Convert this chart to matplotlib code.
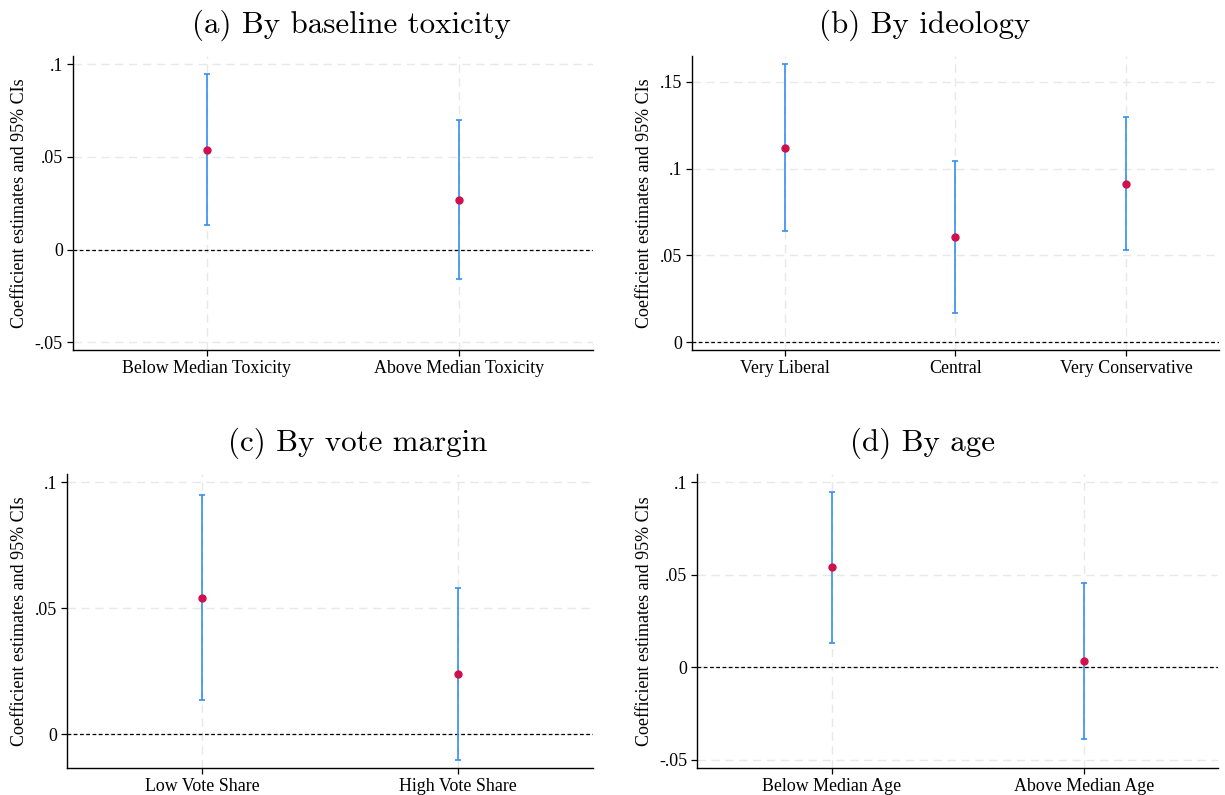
import matplotlib
matplotlib.use("Agg")
import matplotlib.pyplot as plt
import numpy as np

# ---------------- data ----------------
titles = ["(a) By baseline toxicity", "(b) By ideology", "(c) By vote margin", "(d) By age"]

cats_a = ["Below Median Toxicity", "Above Median Toxicity"]
coef_a = [0.054, 0.027]
lo_a = [0.0133, -0.0157]
hi_a = [0.0948, 0.0697]
yticks_a = [-0.05, 0, 0.05, 0.1]
ylabels_a = ["-.05", "0", ".05", ".1"]

cats_b = ["Very Liberal", "Central", "Very Conservative"]
coef_b = [0.112, 0.0608, 0.0911]
lo_b = [0.0642, 0.017, 0.0529]
hi_b = [0.160, 0.1045, 0.1295]
yticks_b = [0, 0.05, 0.1, 0.15]
ylabels_b = ["0", ".05", ".1", ".15"]

cats_c = ["Low Vote Share", "High Vote Share"]
coef_c = [0.0541, 0.0238]
lo_c = [0.0135, -0.0103]
hi_c = [0.095, 0.0578]
yticks_c = [0, 0.05, 0.1]
ylabels_c = ["0", ".05", ".1"]

cats_d = ["Below Median Age", "Above Median Age"]
coef_d = [0.0541, 0.0034]
lo_d = [0.0133, -0.0388]
hi_d = [0.0947, 0.0453]
yticks_d = [-0.05, 0, 0.05, 0.1]
ylabels_d = ["-.05", "0", ".05", ".1"]

ylabel = "Coefficient estimates and 95% CIs"

# ---------------- layout ----------------
W, H = 1225, 795
fig = plt.figure(figsize=(W / 100, H / 100), dpi=100)
plt.rcParams['font.family'] = ['Liberation Serif', 'DejaVu Serif']

def box(l, r, t, b):
    return [l / W, 1 - b / H, (r - l) / W, (b - t) / H]

panels = [
    (box(72.7, 593.3, 56, 350), cats_a, coef_a, lo_a, hi_a, yticks_a, ylabels_a, (-0.0542, 0.1045), 0.53, 0.535),
    (box(691.7, 1219, 56, 350), cats_b, coef_b, lo_b, hi_b, yticks_b, ylabels_b, (-0.0044, 0.1648), 0.545, 0.442),
    (box(66.7, 593.3, 474.3, 768.3), cats_c, coef_c, lo_c, hi_c, yticks_c, ylabels_c, (-0.0136, 0.1031), 0.53, 0.553),
    (box(697.3, 1218, 474.3, 768.3), cats_d, coef_d, lo_d, hi_d, yticks_d, ylabels_d, (-0.0545, 0.1042), 0.533, 0.433),
]

ci_color = "#3590F0"
pt_color = "#D0104C"
grid_color = "#E8E8E8"

for (pos, cats, coef, lo, hi, yt, yl, ylim, marg, tx), title in zip(panels, titles):
    ax = fig.add_axes(pos)
    x = np.arange(1, len(cats) + 1)
    coef = np.array(coef); lo = np.array(lo); hi = np.array(hi)
    ax.set_xlim(1 - marg, len(cats) + marg)
    ax.set_ylim(*ylim)
    # grid
    for v in yt:
        ax.axhline(v, color=grid_color, lw=1.0, dashes=(6, 4), zorder=0)
    for v in x:
        ax.axvline(v, color=grid_color, lw=1.0, dashes=(6, 4), zorder=0)
    ax.axhline(0, color="black", lw=0.9, dashes=(3, 2), zorder=1)
    ax.errorbar(x, coef, yerr=[coef - lo, hi - coef], fmt="none", ecolor=ci_color,
                elinewidth=1.2, capsize=2.5, capthick=1.2, zorder=2)
    ax.plot(x, coef, "o", color=pt_color, ms=5, zorder=3)
    ax.set_xticks(x)
    ax.set_xticklabels(cats, fontsize=12.9)
    ax.set_yticks(yt)
    ax.set_yticklabels(yl, fontsize=12.9)
    ax.tick_params(axis="both", direction="out", length=4, width=0.9, colors="black", pad=3)
    for s in ["top", "right"]:
        ax.spines[s].set_visible(False)
    for s in ["left", "bottom"]:
        ax.spines[s].set_linewidth(1.0)
    ax.set_ylabel(ylabel, fontsize=13, labelpad=5)
    ax.set_title(title, fontsize=22.3, family="cmr10", pad=17, x=tx)

fig.savefig("out.png", dpi=100)
